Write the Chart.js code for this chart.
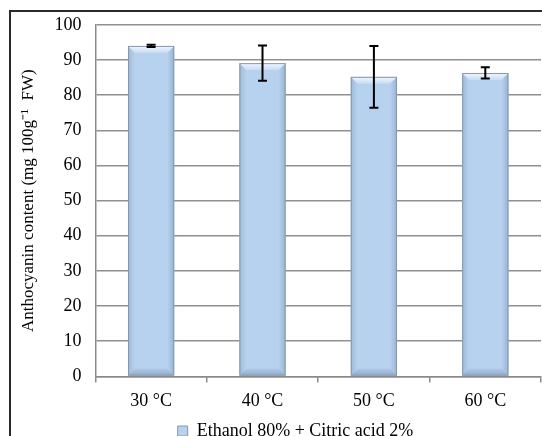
<!DOCTYPE html>
<html>
<head>
<meta charset="utf-8">
<script src="https://cdn.jsdelivr.net/npm/chart.js@4.4.1/dist/chart.umd.min.js"></script>
<style>
  html, body { margin: 0; padding: 0; background: #fff; height: 436px; overflow: hidden; }
  /* canvas a bit taller than the window so the legend sits on the cropped edge */
  #wrap { position: relative; width: 542px; height: 450px; }
</style>
</head>
<body>
<div id="wrap"><canvas id="myChart"></canvas></div>
<script>
// data
var categories = ["30 °C", "40 °C", "50 °C", "60 °C"];
var anthocyanin = [94.0, 89.1, 85.2, 86.3];
var errors = [0.3, 5.0, 8.8, 1.6];
var seriesName = "Ethanol 80% + Citric acid 2%";
var yTitle = "Anthocyanin content (mg 100g\u207B\u00B9  FW)";

var fontFam = "'Liberation Serif', 'Times New Roman', serif";
var barFill = "#b7d2ee";

// outer frame of the figure (top + left only, picture is cropped)
var framePlugin = {
  id: "frame",
  beforeDraw: function(chart) {
    var ctx = chart.ctx;
    ctx.save();
    ctx.strokeStyle = "#2a2a2a";
    ctx.lineWidth = 2;
    ctx.beginPath();
    ctx.moveTo(10, 450);
    ctx.lineTo(10, 11);
    ctx.lineTo(542, 11);
    ctx.stroke();
    ctx.restore();
  }
};

// legend sits a little right of the canvas centre in the original
var legendShift = {
  id: "legendShift",
  afterLayout: function(chart) {
    chart.legend.left += 16;
    chart.legend.right += 16;
  }
};

// bevel look on the bars
var bevelPlugin = {
  id: "bevel",
  afterDatasetsDraw: function(chart) {
    var ctx = chart.ctx;
    var meta = chart.getDatasetMeta(0);
    ctx.save();
    meta.data.forEach(function(bar) {
      var l = bar.x - bar.width / 2, r = bar.x + bar.width / 2;
      var t = bar.y, b = bar.base, d = 7;
      var g;
      // left side
      g = ctx.createLinearGradient(l, 0, l + d, 0);
      g.addColorStop(0, "rgba(70,100,140,0.22)");
      g.addColorStop(1, "rgba(70,100,140,0)");
      ctx.fillStyle = g;
      ctx.beginPath();
      ctx.moveTo(l, t); ctx.lineTo(l + d, t + d); ctx.lineTo(l + d, b - d); ctx.lineTo(l, b);
      ctx.closePath(); ctx.fill();
      // right side
      g = ctx.createLinearGradient(r, 0, r - d, 0);
      g.addColorStop(0, "rgba(70,100,140,0.28)");
      g.addColorStop(1, "rgba(70,100,140,0)");
      ctx.fillStyle = g;
      ctx.beginPath();
      ctx.moveTo(r, t); ctx.lineTo(r - d, t + d); ctx.lineTo(r - d, b - d); ctx.lineTo(r, b);
      ctx.closePath(); ctx.fill();
      // bottom
      g = ctx.createLinearGradient(0, b, 0, b - d);
      g.addColorStop(0, "rgba(70,100,140,0.35)");
      g.addColorStop(1, "rgba(70,100,140,0.08)");
      ctx.fillStyle = g;
      ctx.beginPath();
      ctx.moveTo(l, b); ctx.lineTo(l + d, b - d); ctx.lineTo(r - d, b - d); ctx.lineTo(r, b);
      ctx.closePath(); ctx.fill();
      // top highlight
      g = ctx.createLinearGradient(0, t, 0, t + d);
      g.addColorStop(0, "#f2f7fd");
      g.addColorStop(1, "#c6dcf3");
      ctx.fillStyle = g;
      ctx.beginPath();
      ctx.moveTo(l, t); ctx.lineTo(r, t); ctx.lineTo(r - d, t + d); ctx.lineTo(l + d, t + d);
      ctx.closePath(); ctx.fill();
      // outline
      ctx.strokeStyle = "#8797a8";
      ctx.lineWidth = 1;
      ctx.strokeRect(l + 0.5, t + 0.5, bar.width - 1, b - t - 1);
    });
    ctx.restore();
  }
};

// error bars from the y scale
var errorPlugin = {
  id: "errbars",
  afterDatasetsDraw: function(chart) {
    var ctx = chart.ctx;
    var y = chart.scales.y;
    var meta = chart.getDatasetMeta(0);
    ctx.save();
    ctx.strokeStyle = "#000";
    ctx.lineWidth = 2;
    meta.data.forEach(function(bar, i) {
      var v = anthocyanin[i], e = errors[i];
      var hi = y.getPixelForValue(v + e), lo = y.getPixelForValue(v - e);
      var x = bar.x, c = 4.5;
      ctx.beginPath();
      ctx.moveTo(x, hi); ctx.lineTo(x, lo);
      ctx.moveTo(x - c, hi); ctx.lineTo(x + c, hi);
      ctx.moveTo(x - c, lo); ctx.lineTo(x + c, lo);
      ctx.stroke();
    });
    ctx.restore();
  }
};

var chart = new Chart(document.getElementById("myChart"), {
  type: "bar",
  data: {
    labels: categories,
    datasets: [{
      label: seriesName,
      data: anthocyanin,
      backgroundColor: barFill,
      borderWidth: 0,
      categoryPercentage: 1.0,
      barPercentage: 0.415
    }]
  },
  options: {
    responsive: true,
    maintainAspectRatio: false,
    animation: false,
    layout: { padding: { top: 23, right: 1, bottom: 0, left: 18 } },
    plugins: {
      legend: {
        position: "bottom",
        labels: {
          font: { family: fontFam, size: 18 },
          color: "#000",
          boxWidth: 10,
          boxHeight: 10,
          padding: 2,
          generateLabels: function(ch) {
            return [{
              text: seriesName,
              fillStyle: barFill,
              strokeStyle: "#8797a8",
              lineWidth: 1,
              datasetIndex: 0
            }];
          }
        }
      },
      tooltip: { enabled: false }
    },
    scales: {
      x: {
        grid: {
          offset: true,
          drawOnChartArea: false,
          drawTicks: true,
          tickLength: 6,
          color: "#8a8a8a",
          lineWidth: 1.5
        },
        border: { color: "#8a8a8a", width: 1.5 },
        ticks: {
          font: { family: fontFam, size: 18 },
          color: "#000",
          padding: 8
        }
      },
      y: {
        min: 0,
        max: 100,
        ticks: {
          stepSize: 10,
          font: { family: fontFam, size: 18 },
          color: "#000",
          padding: 14
        },
        grid: {
          color: "#8f8f8f",
          lineWidth: 1.5,
          drawTicks: false
        },
        border: { color: "#8a8a8a", width: 1.5 },
        title: {
          display: true,
          text: yTitle,
          font: { family: fontFam, size: 17 },
          color: "#000",
          padding: { top: 0, bottom: 2 }
        }
      }
    }
  },
  plugins: [framePlugin, legendShift, bevelPlugin, errorPlugin]
});
</script>
</body>
</html>
